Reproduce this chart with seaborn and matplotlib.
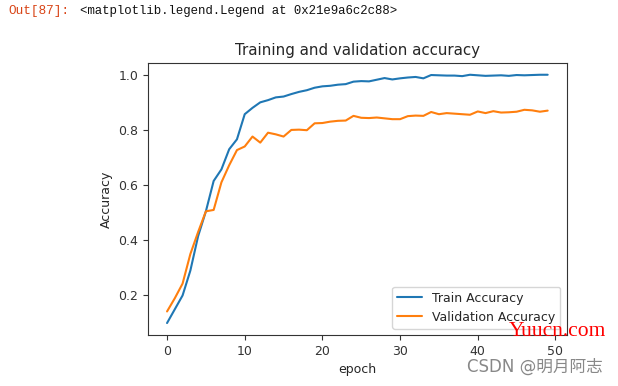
import pandas as pd
import matplotlib
matplotlib.use("Agg")
import matplotlib.pyplot as plt
import seaborn as sns

# accuracy per epoch
train_acc = [0.10, 0.15, 0.20, 0.29, 0.415, 0.505, 0.615, 0.657, 0.73, 0.766,
             0.857, 0.88, 0.90, 0.908, 0.918, 0.921, 0.93, 0.938, 0.944, 0.953,
             0.958, 0.96, 0.964, 0.966, 0.975, 0.977, 0.976, 0.982, 0.988, 0.983,
             0.987, 0.99, 0.992, 0.987, 0.999, 0.998, 0.997, 0.997, 0.995, 1.0,
             0.998, 0.996, 0.997, 0.998, 0.996, 0.999, 0.998, 0.999, 1.0, 1.0]
val_acc = [0.142, 0.19, 0.243, 0.35, 0.43, 0.505, 0.51, 0.61, 0.672, 0.727,
           0.74, 0.776, 0.754, 0.79, 0.784, 0.776, 0.80, 0.801, 0.799, 0.824,
           0.825, 0.83, 0.833, 0.834, 0.851, 0.844, 0.843, 0.845, 0.842, 0.839,
           0.839, 0.85, 0.852, 0.851, 0.865, 0.857, 0.861, 0.859, 0.857, 0.855,
           0.867, 0.861, 0.868, 0.863, 0.864, 0.866, 0.873, 0.871, 0.866, 0.87]
series_names = ["Train Accuracy", "Validation Accuracy"]

epochs = list(range(len(train_acc)))
df = pd.DataFrame({"epoch": epochs * 2,
                   "acc": train_acc + val_acc,
                   "series": [series_names[0]] * len(epochs) + [series_names[1]] * len(epochs)})

sns.set_style("ticks")
plt.rcParams['font.family'] = ['DejaVu Sans', 'Noto Sans CJK SC']

fig = plt.figure(figsize=(6.18, 3.86), dpi=100)
ax = fig.add_axes([0.2395, 0.132, 0.6775, 0.705])

sns.lineplot(data=df, x="epoch", y="acc", hue="series", palette=["#1f77b4", "#ff7f0e"],
             linewidth=1.5, ax=ax)

ax.set_title("Training and validation accuracy", fontsize=10.8)
ax.set_xlabel("epoch", fontsize=9)
ax.set_ylabel("Accuracy", fontsize=9)
ax.set_xlim(-2.45, 51.45)
ax.set_ylim(0.0565, 1.0429)
ax.set_xticks([0, 10, 20, 30, 40, 50])
ax.set_yticks([0.2, 0.4, 0.6, 0.8, 1.0])
ax.tick_params(labelsize=9, length=3.5, width=0.8, colors="#333333")
for s in ax.spines.values():
    s.set_color("#333333")
    s.set_linewidth(0.8)
ax.legend(loc="lower right", fontsize=9, title=None)

# notebook output line and watermarks
fig.text(0.013, 0.972, "Out[87]:", color="#d84315", fontsize=9.2,
         family="Liberation Mono", va="center")
fig.text(0.13, 0.972, "<matplotlib.legend.Legend at 0x21e9a6c2c88>", color="#111111",
         fontsize=8.9, family="Liberation Mono", va="center")
fig.text(0.824, 0.14, "Yuucn.com", color="#ff0000", fontsize=15.5,
         family="Liberation Serif", va="center")
fig.text(0.756, 0.049, "CSDN @明月阿志", color="#888888", fontsize=12,
         family=["DejaVu Sans", "Noto Sans CJK SC"], va="center")

fig.savefig("out.png", dpi=100)
